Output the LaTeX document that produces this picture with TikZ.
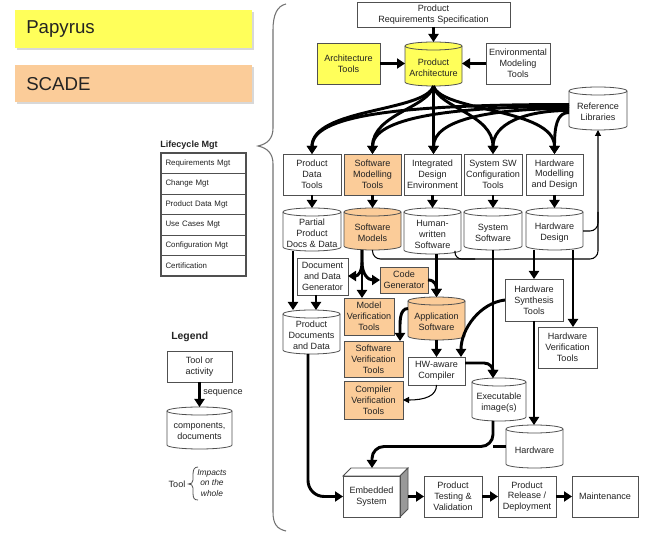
\documentclass[tikz,border=0pt]{standalone}
\usepackage{fontspec}
\setmainfont{Liberation Sans}
\usetikzlibrary{arrows.meta,shadows,calc}
\definecolor{papy}{RGB}{255,255,90}
\definecolor{scade}{RGB}{251,204,153}
\definecolor{edge}{RGB}{80,80,80}
\definecolor{ink}{RGB}{35,35,35}
\newcommand\nodefont{\fontsize{6.8}{8.1}\selectfont}
\tikzset{
 box/.style={draw=edge, line width=0.6pt, inner sep=0pt, outer sep=0pt, align=center, font=\nodefont, text=ink},
 txt/.style={inner sep=0pt, align=center, font=\nodefont, text=ink},
 cylb/.style={draw=edge, line width=0.6pt},
 con/.style={line width=2.2pt, -{Triangle[width=7.5pt,length=6pt]}},
 conn/.style={line width=2.2pt},
 thinl/.style={line width=0.8pt, -{Triangle[width=4.5pt,length=4.5pt]}},
 thinn/.style={line width=0.8pt},
 lrow/.style={draw=edge, line width=0.6pt, inner sep=0pt, outer sep=0pt, minimum width=63.75pt, minimum height=15.375pt, text width=57pt, align=left, font=\fontsize{5.9}{7}\selectfont, text=ink},
}
\newcommand\bx[7][]{\node[box,#1,minimum width={(#5-#3)*0.75pt},minimum height={(#6-#4)*0.75pt}] (#2) at ({(#3+#5)/2},{(#4+#6)/2}) {#7};}
\newcommand\cy[7][white]{%
 \pgfmathsetmacro\cxm{(#3+#5)/2}%
 \pgfmathsetmacro\crx{(#5-#3)/2}%
 \pgfmathsetmacro\ctop{#4+4}%
 \pgfmathsetmacro\cbot{#6-4}%
 \pgfmathsetmacro\kx{0.5523*\crx}%
 \pgfmathsetmacro\ky{0.5523*4}%
 \pgfmathsetmacro\cmid{#4+8}%
 \filldraw[cylb,fill=#1] (#3,\ctop) -- (#3,\cbot) .. controls (#3,\cbot+\ky) and (\cxm-\kx,#6) .. (\cxm,#6) .. controls (\cxm+\kx,#6) and (#5,\cbot+\ky) .. (#5,\cbot) -- (#5,\ctop) .. controls (#5,\ctop-\ky) and (\cxm+\kx,#4) .. (\cxm,#4) .. controls (\cxm-\kx,#4) and (#3,\ctop-\ky) .. (#3,\ctop) -- cycle;
 \draw[cylb] (#3,\ctop) .. controls (#3,\ctop+\ky) and (\cxm-\kx,\cmid) .. (\cxm,\cmid) .. controls (\cxm+\kx,\cmid) and (#5,\ctop+\ky) .. (#5,\ctop);
 \node[inner sep=0pt,outer sep=0pt,minimum width={(#5-#3)*0.75pt},minimum height={(#6-#4)*0.75pt}] (#2) at (\cxm,{(#4+#6)/2}) {};
 \node[txt] (#2-t) at (\cxm,{(#4+#6)/2+3.5}) {#7};
}
\begin{document}
\begin{tikzpicture}[x=0.75pt,y=-0.75pt]
\fill[white] (0,0) rectangle (647,534);
\useasboundingbox (0,0) rectangle (647,534);

% ---------- left panel ----------
\node[fill=papy, inner sep=0pt, minimum width=177.75pt, minimum height=28.5pt, drop shadow={shadow xshift=1.2pt, shadow yshift=-1.2pt, opacity=0.3}] (papbox) at (133.5,29) {};
\node[anchor=west, inner sep=0pt, font=\fontsize{14}{16}\selectfont, text=ink] (paptxt) at (26,29) {Papyrus};
\node[fill=scade, inner sep=0pt, minimum width=177.75pt, minimum height=27.75pt, drop shadow={shadow xshift=1.2pt, shadow yshift=-1.2pt, opacity=0.3}] (scbox) at (133.5,83.5) {};
\node[anchor=west, inner sep=0pt, font=\fontsize{14}{16}\selectfont, text=ink] (sctxt) at (26,84) {SCADE};

\node[anchor=west, inner sep=0pt, font=\bfseries\fontsize{6.8}{8}\selectfont, text=ink] (lcm) at (160,145) {Lifecycle Mgt};
\node[lrow] (r1) at (203.5,163.25) {Requirements Mgt};
\node[lrow] (r2) at (203.5,183.75) {Change Mgt};
\node[lrow] (r3) at (203.5,204.25) {Product Data Mgt};
\node[lrow] (r4) at (203.5,224.75) {Use Cases Mgt};
\node[lrow] (r5) at (203.5,245.25) {Configuration Mgt};
\node[lrow] (r6) at (203.5,265.75) {Certification};
\draw[edge, line width=0.9pt] (161,153) rectangle (246,276);

% big brace
\draw[edge!80, line width=0.8pt] (286,4) .. controls (277,6) and (273,15) .. (273,30) -- (273,128) .. controls (273,139) and (267,144) .. (258,146) .. controls (267,148) and (273,153) .. (273,164) -- (273,512) .. controls (273,524) and (277,529) .. (286,531);

% legend
\node[anchor=west, inner sep=0pt, font=\bfseries\fontsize{7.8}{9}\selectfont, text=ink] (lg) at (171,337) {Legend};
\bx{lt}{167}{351}{232}{382}{Tool or\\activity}
\cy{lc}{167}{407}{232}{449}{components,\\documents}
\draw[con] (lt) -- (lc);
\node[anchor=west, txt] (lseq) at (203,393) {sequence};
\node[txt] (ltool) at (177,484) {Tool};
\draw[edge, line width=0.6pt] (198,467) .. controls (194,467) and (193,470) .. (193,475) -- (193,480) .. controls (193,483) and (191,484) .. (188.5,484) .. controls (191,484) and (193,485) .. (193,488) -- (193,493) .. controls (193,498) and (194,500) .. (198,500);
\node[anchor=west, inner sep=0pt, align=center, font=\itshape\fontsize{6.3}{8}\selectfont, text=ink] (limp) at (197,483) {Impacts\\on the\\whole};

% ---------- main diagram ----------
\bx{prs}{357}{2}{510}{27}{Product\\Requirements Specification}
\bx[fill=papy]{at}{317}{43}{380}{84}{Architecture\\Tools}
\cy[papy]{pa}{405}{42}{462}{86}{Product\\Architecture}
\bx{env}{486}{43}{550}{84}{Environmental\\Modeling\\Tools}
\cy{rl}{569}{87}{627}{130}{Reference\\Libraries}

\bx{pdt}{283}{154}{341}{195}{Product\\Data\\Tools}
\bx[fill=scade]{smt}{344}{154}{401}{195}{Software\\Modelling\\Tools}
\bx{ide}{404}{154}{461}{195}{Integrated\\Design\\Environment}
\bx{ssc}{464}{154}{522}{195}{System SW\\Configuration\\Tools}
\bx{hmd}{526}{154}{583}{195}{Hardware\\Modelling\\and Design}

\cy{ppd}{283}{208}{341}{251}{Partial\\Product\\Docs \& Data}
\cy[scade]{swm}{344}{208}{401}{250}{Software\\Models}
\cy{hws}{404}{208}{461}{254}{Human-\\written\\Software}
\cy{sys}{464}{208}{522}{250}{System\\Software}
\cy{hwd}{526}{208}{583}{250}{Hardware\\Design}

\bx{ddg}{297}{258}{348}{295}{Document\\and Data\\Generator}
\bx[fill=scade]{cg}{380}{267}{428}{293}{Code\\Generator}
\bx[fill=scade]{mvt}{344}{298}{394}{335}{Model\\Verification\\Tools}
\cy[scade]{aps}{408}{297}{465}{340}{Application\\Software}
\bx[fill=scade]{svt}{344}{341}{403}{377}{Software\\Verification\\Tools}
\bx[fill=scade]{cvt}{344}{381}{403}{419}{Compiler\\Verification\\Tools}
\cy{pdd}{283}{310}{340}{354}{Product\\Documents\\and Data}
\bx{hwc}{408}{357}{465}{385}{HW-aware\\Compiler}
\bx{hst}{505}{279}{563}{321}{Hardware\\Synthesis\\Tools}
\bx{hvt}{538}{327}{597}{368}{Hardware\\Verification\\Tools}
\cy{exe}{472}{378}{526}{421}{Executable\\image(s)}
\cy{hw}{506}{425}{563}{468}{Hardware}

\filldraw[cylb, fill=white] (343,476) -- (351,468) -- (408,468) -- (400,476) -- cycle;
\filldraw[cylb, fill=black!40] (400,476) -- (408,468) -- (408,509) -- (400,517) -- cycle;
\bx{emb}{343}{476}{400}{517}{Embedded\\System}
\coordinate (embT) at (372,468);
\coordinate (embR) at (408,496.5);
\bx{ptv}{424}{476}{482}{517}{Product\\Testing \&\\Validation}
\bx{prd}{498}{476}{556}{517}{Product\\Release /\\Deployment}
\bx{mnt}{572}{476}{638}{517}{Maintenance}

% ---------- connectors ----------
\draw[con] (prs.south -| pa.north) -- (pa.north);
\draw[con] (at.east) -- (at.east -| pa.west);
\draw[con] (env.west) -- (env.west -| pa.east);

% fan from reference libraries
\draw[con] ([yshift=3pt]rl.west) .. controls +(-175,0) and +(0,-38) .. (pdt.north);
\draw[con] ([yshift=1.5pt]rl.west) .. controls +(-120,0) and +(0,-36) .. (smt.north);
\draw[con] (rl.west) .. controls +(-80,0) and +(0,-34) .. (pa.south |- ide.north);
\draw[con] ([yshift=-1.5pt]rl.west) .. controls +(-45,0) and +(0,-30) .. (ssc.north);
\draw[con] ([yshift=-3pt]rl.west) .. controls +(-12,0) and +(0,-28) .. (hmd.north);
% fan from product architecture
\draw[con] (pa.south) .. controls +(-8,26) and +(0,-46) .. (pdt.north);
\draw[con] (pa.south) .. controls +(-5,22) and +(0,-40) .. (smt.north);
\draw[con] (pa.south) -- (pa.south |- ide.north);
\draw[con] (pa.south) .. controls +(5,22) and +(0,-40) .. (ssc.north);
\draw[con] (pa.south) .. controls +(8,26) and +(0,-46) .. (hmd.north);

% row 2 -> row 3
\draw[con] (pdt) -- (ppd);
\draw[con] (smt) -- (swm);
\draw[con] (ide) -- (hws);
\draw[con] (ssc) -- (sys);
\draw[con] (hmd) -- (hwd);

% thin lines to reference libraries
\draw[thinl, rounded corners=6pt] (swm.south) -- (swm.south |- 0,259) -- (rl.south |- 0,259) -- (rl.south);
\draw[thinn, rounded corners=5pt] (455,251) -- (455,259) -- (475,259);
\draw[thinn, rounded corners=6pt] (hwd.east |- 0,231) -- (rl.south |- 0,231) -- (rl.south |- 0,212);

% documents
\draw[con] (293,0 |- ppd.south) -- (293,0 |- pdd.north);
\draw[con] (316,0 |- ddg.south) -- (316,0 |- pdd.north);

% software models branches
\draw[con] (362,0 |- swm.south) -- (362,0 |- mvt.north);
\draw[con] (362,0 |- swm.south) -- (362,262) .. controls (362,272) and (358,276) .. (ddg.east |- 0,276);
\draw[con] (362,0 |- swm.south) -- (362,262) .. controls (362,274) and (368,280) .. (cg.west);

\draw[con] (aps.north |- hws.south) -- (aps.north);
\draw[con] (cg.east) .. controls +(8,0) and +(0,-10) .. (aps.north);
\draw[con] ([yshift=7.5pt]aps.west) .. controls +(-9,0) and +(0,-18) .. (400,0 |- svt.north);
\draw[con] (aps) -- (hwc);
\draw[thinl] (hwc.south) .. controls +(0,11) and +(22,0) .. (cvt.east);

% hardware side
\draw[con] (hst.north |- hwd.south) -- (hst.north);
\draw[con] (573,0 |- hwd.south) -- (573,0 |- hvt.north);
\draw[con] (hst.west) .. controls +(-25,3) and +(0,-28) .. (461,0 |- hwc.north);
\draw[con] (sys.south) -- (sys.south |- exe.north);
\draw[con] ([yshift=6pt]hwc.east) -- (484,363) .. controls (490,363) and (493,368) .. (sys.south |- exe.north);
\draw[con] (hst.south) -- (hst.south |- hw.north);

% to embedded system
\draw[conn] (hw.west) -- (sys.south |- hw.west);
\draw[con, rounded corners=9pt] (sys.south |- exe.south) -- (sys.south |- hw.west) -- (embT |- hw.west) -- (embT);
\draw[con, rounded corners=12pt] (308,0 |- pdd.south) -- (308,0 |- emb.west) -- (emb.west);

\draw[con] (embR) -- (ptv.west);
\draw[con] (ptv) -- (prd);
\draw[con] (prd) -- (mnt);
\end{tikzpicture}
\end{document}
